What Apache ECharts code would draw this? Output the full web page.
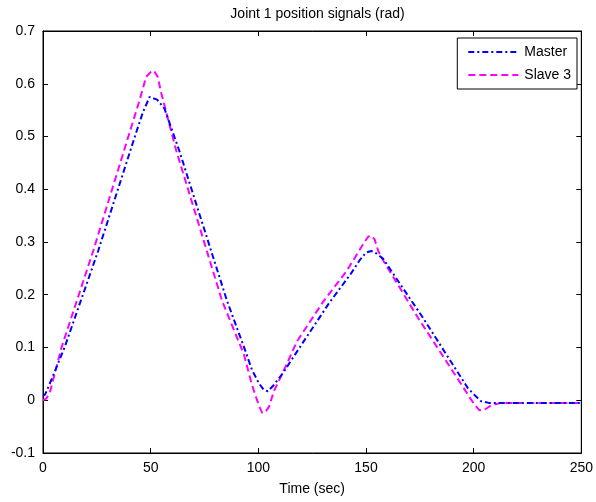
<!DOCTYPE html>
<html>
<head>
<meta charset="utf-8">
<script src="https://cdn.jsdelivr.net/npm/echarts@6/dist/echarts.min.js"></script>
<style>
  html, body { margin: 0; padding: 0; background: #fff; }
  #chart { width: 596px; height: 502px; }
</style>
</head>
<body>
<div id="chart"></div>
<script>
var titleText = 'Joint 1 position signals (rad)';
var xAxisName = 'Time (sec)';
var seriesNames = ['Master', 'Slave 3'];

var masterTime = [0, 1, 4, 10, 25.6, 43.3, 46.4, 49.5, 53, 56.4, 63.3, 85.5, 94.3, 97, 100.3, 102.5, 104.4, 107, 111.5, 120, 133, 143, 147, 150, 152.5, 155, 158, 176.5, 197.3, 200.4, 203.5, 207, 250];
var masterPos  = [0.008, 0.011, 0.04, 0.1, 0.283, 0.508, 0.546, 0.575, 0.57, 0.553, 0.473, 0.188, 0.09, 0.058, 0.032, 0.02, 0.017, 0.028, 0.052, 0.105, 0.185, 0.24, 0.265, 0.28, 0.283, 0.278, 0.268, 0.156, 0.023, 0.01, -0.002, -0.005, -0.005];

var slaveTime = [0, 1.5, 3.2, 8.6, 23.3, 41, 44.8, 47.9, 50, 51.5, 53.3, 54.8, 61.9, 83.2, 93.3, 97, 99, 100.5, 101.8, 103.3, 105, 107.2, 111, 118, 130.3, 141, 146, 149, 151, 152.5, 154, 155.7, 158, 174.2, 197.3, 200, 202.7, 205, 208, 212.7, 250];
var slavePos  = [0, 0.003, 0.015, 0.1, 0.283, 0.518, 0.568, 0.613, 0.622, 0.625, 0.613, 0.584, 0.473, 0.188, 0.087, 0.03, 0.005, -0.012, -0.024, -0.022, -0.012, 0.017, 0.049, 0.112, 0.188, 0.245, 0.278, 0.298, 0.31, 0.312, 0.305, 0.283, 0.265, 0.156, 0.011, -0.006, -0.019, -0.018, -0.01, -0.005, -0.005];

var xMin = 0, xMax = 250, xStep = 50;
var yMin = -0.1, yMax = 0.7, yStep = 0.1;

function zip(a, b) { return a.map(function (v, i) { return [v, b[i]]; }); }

var font = 'Liberation Sans, Arial, sans-serif';
var chart = echarts.init(document.getElementById('chart'), null, { renderer: 'canvas' });

var tickStyle = { show: true, inside: true, length: 5, lineStyle: { color: '#000', width: 1 } };
var gridLeft = 43, gridRight = 14;

chart.setOption({
  animation: false,
  backgroundColor: '#fff',
  title: {
    text: titleText, left: (gridLeft + 596 - gridRight) / 2, textAlign: 'center', top: 2,
    textStyle: { fontFamily: font, fontSize: 14, fontWeight: 'normal', color: '#000' }
  },
  grid: { left: gridLeft, right: gridRight, top: 31, bottom: 49, show: true, borderColor: '#000', borderWidth: 1, backgroundColor: '#fff' },
  legend: {
    right: 19, top: 38, orient: 'vertical', itemGap: 9,
    itemWidth: 50, itemHeight: 12,
    padding: [7, 6, 7, 10],
    borderColor: '#000', borderWidth: 1, backgroundColor: '#fff',
    itemStyle: { opacity: 0 },
    textStyle: { fontFamily: font, fontSize: 14, color: '#000', padding: [0, 0, 0, 1] },
    data: seriesNames
  },
  xAxis: [{
    type: 'value', min: xMin, max: xMax, interval: xStep,
    name: xAxisName, nameLocation: 'middle', nameGap: 29,
    nameTextStyle: { fontFamily: font, fontSize: 14, color: '#000' },
    axisLine: { show: true, onZero: false, lineStyle: { color: '#000' } },
    axisTick: tickStyle,
    axisLabel: { fontFamily: font, fontSize: 14, color: '#000', margin: 8 },
    splitLine: { show: false }
  }, {
    type: 'value', min: xMin, max: xMax, interval: xStep, position: 'top',
    axisLine: { show: true, onZero: false, lineStyle: { color: '#000' } },
    axisTick: tickStyle, axisLabel: { show: false }, splitLine: { show: false }
  }],
  yAxis: [{
    type: 'value', min: yMin, max: yMax, interval: yStep,
    axisLine: { show: true, onZero: false, lineStyle: { color: '#000' } },
    axisTick: tickStyle,
    axisLabel: { fontFamily: font, fontSize: 14, color: '#000', margin: 8,
      formatter: function (v) { return String(Math.round(v * 10) / 10); } },
    splitLine: { show: false }
  }, {
    type: 'value', min: yMin, max: yMax, interval: yStep, position: 'right',
    axisLine: { show: true, onZero: false, lineStyle: { color: '#000' } },
    axisTick: tickStyle, axisLabel: { show: false }, splitLine: { show: false }
  }],
  series: [{
    name: seriesNames[0], type: 'line', showSymbol: false, symbol: 'none',
    data: zip(masterTime, masterPos),
    lineStyle: { color: '#0000ff', width: 2, type: [6, 3, 2, 3] },
    itemStyle: { color: '#0000ff' }, z: 3
  }, {
    name: seriesNames[1], type: 'line', showSymbol: false, symbol: 'none',
    data: zip(slaveTime, slavePos),
    lineStyle: { color: '#ff00ff', width: 2, type: [7, 4] },
    itemStyle: { color: '#ff00ff' }, z: 2
  }]
});
</script>
</body>
</html>
